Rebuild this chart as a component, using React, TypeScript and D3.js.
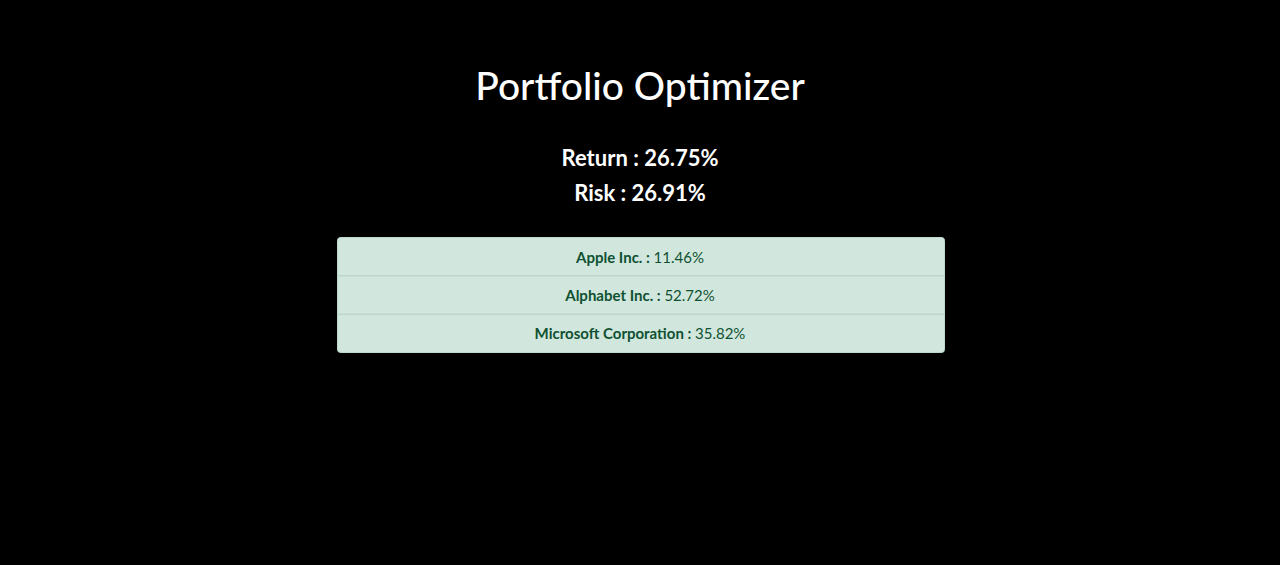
import { scaleBand } from "d3";
import type { ReactElement } from "react";

const assetNames = ["Apple Inc.", "Alphabet Inc.", "Microsoft Corporation"];
const assetWeights = [11.46, 52.72, 35.82];
const portfolioReturn = 26.75;
const portfolioRisk = 26.91;

const width = 1280;
const height = 565;
const font = "Lato, 'Noto Sans', sans-serif";

const App = (): ReactElement => {
  const box = { x: 337.5, y: 237.5, w: 607, h: 115 };
  const yScale = scaleBand<string>().domain(assetNames).range([box.y, box.y + box.h]);
  const cx = width / 2;

  return (
    <div style={{ position: "fixed", inset: 0, background: "#000" }}>
      <svg width={width} height={height} viewBox={`0 0 ${width} ${height}`} style={{ display: "block" }}>
        <rect width={width} height={height} fill="#000" />
        <text x={cx} y={100} textAnchor="middle" fill="#fff" fontFamily={font} fontSize={39} fontWeight={500}>
          Portfolio Optimizer
        </text>
        <text x={cx} y={166} textAnchor="middle" fill="#fff" fontFamily={font} fontSize={22} fontWeight={700}>
          Return : {portfolioReturn.toFixed(2)}%
        </text>
        <text x={cx} y={201} textAnchor="middle" fill="#fff" fontFamily={font} fontSize={22} fontWeight={700}>
          Risk : {portfolioRisk.toFixed(2)}%
        </text>

        <rect x={box.x} y={box.y} width={box.w} height={box.h} rx={3} fill="#d1e7dd" stroke="#badbcc" />
        {assetNames.map((name, i) => {
          const y = yScale(name) ?? 0;
          return (
            <g key={name}>
              {i > 0 && (
                <line x1={box.x} x2={box.x + box.w} y1={y} y2={y} stroke="#b5cfc4" strokeWidth={1} />
              )}
              <text
                x={cx}
                y={y + yScale.bandwidth() / 2}
                dominantBaseline="central"
                textAnchor="middle"
                fontFamily={font}
                fontSize={15}
                fill="#0f5132"
              >
                <tspan fontWeight={700}>{name} : </tspan>
                <tspan>{assetWeights[i].toFixed(2)}%</tspan>
              </text>
            </g>
          );
        })}
      </svg>
    </div>
  );
};

export default App;
